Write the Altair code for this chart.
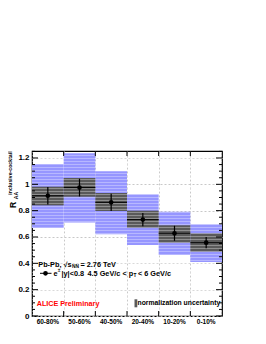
import altair as alt
import pandas as pd
import numpy as np

# ---- data ----
centrality = ["60-80%", "50-60%", "40-50%", "20-40%", "10-20%", "0-10%"]
raa = [0.913, 0.975, 0.863, 0.732, 0.628, 0.557]
stat_err = [0.067, 0.067, 0.065, 0.050, 0.057, 0.043]
syst_lo = [0.668, 0.710, 0.620, 0.539, 0.463, 0.410]
syst_hi = [1.155, 1.235, 1.100, 0.925, 0.792, 0.697]
norm_lo = [0.840, 0.906, 0.797, 0.670, 0.557, 0.488]
norm_hi = [0.982, 1.048, 0.934, 0.800, 0.690, 0.628]
y_major = [0, 0.2, 0.4, 0.6, 0.8, 1.0, 1.2]
y_minor = [0.05, 0.1, 0.15, 0.25, 0.3, 0.35, 0.45, 0.5, 0.55, 0.65, 0.7, 0.75,
           0.85, 0.9, 0.95, 1.05, 1.1, 1.15, 1.25]
bin_edges = [1, 2, 3, 4, 5]

W, H = 190, 165
YMAX = 1.253
FONT = "Liberation Sans"

df = pd.DataFrame({
    "cent": centrality,
    "x0": list(range(6)),
    "raa": raa,
    "err": stat_err,
    "syst_lo": syst_lo, "syst_hi": syst_hi,
    "norm_lo": norm_lo, "norm_hi": norm_hi,
})
df["x1"] = df["x0"] + 1
df["xc"] = df["x0"] + 0.5
df["s_lo"] = df["raa"] - df["err"]
df["s_hi"] = df["raa"] + df["err"]

xs = alt.Scale(domain=[0, 6], nice=False, zero=False)
ys = alt.Scale(domain=[0, YMAX], nice=False, zero=False)

xaxis = alt.Axis(values=bin_edges, labels=False, ticks=False, domain=False,
                 grid=True, gridColor="#c8c8c8", gridDash=[2, 2], title=None)
yaxis = alt.Axis(values=y_major, format="~g", labelFont=FONT, labelFontWeight="bold",
                 labelFontSize=8, labelColor="black", labelPadding=3, ticks=False,
                 labelOverlap=False, labelFlush=False,
                 domain=False, grid=True, gridColor="#c8c8c8", gridDash=[2, 2], title=None)


def X(f):
    return alt.X(f, scale=xs, axis=xaxis)


def Y(f):
    return alt.Y(f, scale=ys, axis=yaxis)


base = alt.Chart(df)

syst = base.mark_rect(color="#9696ff").encode(
    x=X("x0:Q"), x2="x1", y=Y("syst_lo:Q"), y2="syst_hi")

norm = base.mark_rect(color="#5a5a5a").encode(
    x=X("x0:Q"), x2="x1", y=Y("norm_lo:Q"), y2="norm_hi")

# hatch-like light stripes (style only)
stripe_px = np.arange(1.5, H, 3.0)
stripes_df = pd.DataFrame({"v": (H - stripe_px) / H * YMAX})
stripes = alt.Chart(stripes_df).mark_rule(color="white", opacity=0.32, strokeWidth=1).encode(
    y=Y("v:Q"), x=alt.value(0), x2=alt.value(W))

errv = base.mark_rule(color="black", strokeWidth=1.2).encode(
    x=X("xc:Q"), y=Y("s_lo:Q"), y2="s_hi")
errh = base.mark_rule(color="black", strokeWidth=1).encode(
    x=X("x0:Q"), x2="x1", y=Y("raa:Q"))
pts = base.mark_circle(color="black", size=22, opacity=1).encode(
    x=X("xc:Q"), y=Y("raa:Q"))

# inward ticks
maj_df = pd.DataFrame({"v": y_major})
min_df = pd.DataFrame({"v": y_minor})
edge_df = pd.DataFrame({"e": bin_edges})
tk = []
for d, L in ((maj_df, 6), (min_df, 3)):
    tk.append(alt.Chart(d).mark_rule(color="black", strokeWidth=1).encode(
        y=Y("v:Q"), x=alt.value(0), x2=alt.value(L)))
    tk.append(alt.Chart(d).mark_rule(color="black", strokeWidth=1).encode(
        y=Y("v:Q"), x=alt.value(W - L), x2=alt.value(W)))
tk.append(alt.Chart(edge_df).mark_rule(color="black", strokeWidth=1).encode(
    x=X("e:Q"), y=alt.value(0), y2=alt.value(5)))
tk.append(alt.Chart(edge_df).mark_rule(color="black", strokeWidth=1).encode(
    x=X("e:Q"), y=alt.value(H - 5), y2=alt.value(H)))

xlab = base.mark_text(font=FONT, fontSize=6.5, fontWeight="bold", color="black",
                      baseline="middle", align="center").encode(
    x=X("xc:Q"), y=alt.value(H + 5.5), text="cent:N")


def txt(s, x, y, size=7.3, weight="bold", color="black", align="left", angle=0):
    return alt.Chart(pd.DataFrame({"t": [s]})).mark_text(
        font=FONT, fontSize=size, fontWeight=weight, color=color, align=align,
        baseline="middle", angle=angle).encode(
        x=alt.value(x), y=alt.value(y), text="t:N")


ann = [
    # y-axis title  R_AA^{inclusive-cocktail}
    txt("R", -19.5, 54, size=8.5, align="center", angle=270),
    txt("AA", -15.8, 44.5, size=5.2, align="center", angle=270),
    txt("inclusive-cocktail", -21.6, 22, size=5.2, align="center", angle=270),
    # legend text
    txt("Pb-Pb, \u221as", 6.3, 114),
    txt("NN", 40, 116, size=4.8),
    txt("= 2.76 TeV", 48.5, 114),
    txt("e", 21.5, 122.5),
    txt("\u00b1", 25.7, 120, size=4.8),
    txt("|y|<0.8", 29.5, 122.5),
    txt("4.5 GeV/c < p", 55.5, 122.5),
    txt("T", 101.5, 124.5, size=4.8),
    txt("< 6 GeV/c", 106, 122.5),
    txt("ALICE Preliminary", 4.7, 153, size=7.2, color="#ff0000"),
    txt("normalization uncertainty", 105.5, 152.3, size=6.8),
]

leg_line = alt.Chart(pd.DataFrame({"a": [0]})).mark_rule(color="black", strokeWidth=1).encode(
    x=alt.value(8), x2=alt.value(19.5), y=alt.value(122.3))
leg_pt = alt.Chart(pd.DataFrame({"a": [0]})).mark_circle(color="black", size=22, opacity=1).encode(
    x=alt.value(13.5), y=alt.value(122.3))
leg_box = alt.Chart(pd.DataFrame({"a": [0]})).mark_rect(color="#5a5a5a").encode(
    x=alt.value(102.5), x2=alt.value(105.3), y=alt.value(148.3), y2=alt.value(156.3))

chart = alt.layer(
    syst, norm, stripes, *tk, errv, errh, pts, xlab, leg_line, leg_pt, leg_box, *ann
).properties(
    width=W, height=H,
    autosize=alt.AutoSizeParams(type="none"),
    padding={"left": 24, "top": 143, "right": 20, "bottom": 20},
    background="white",
).configure_view(stroke="black", strokeWidth=1.2)

chart.save("out.html", embed_options={"renderer": "svg", "actions": False})
